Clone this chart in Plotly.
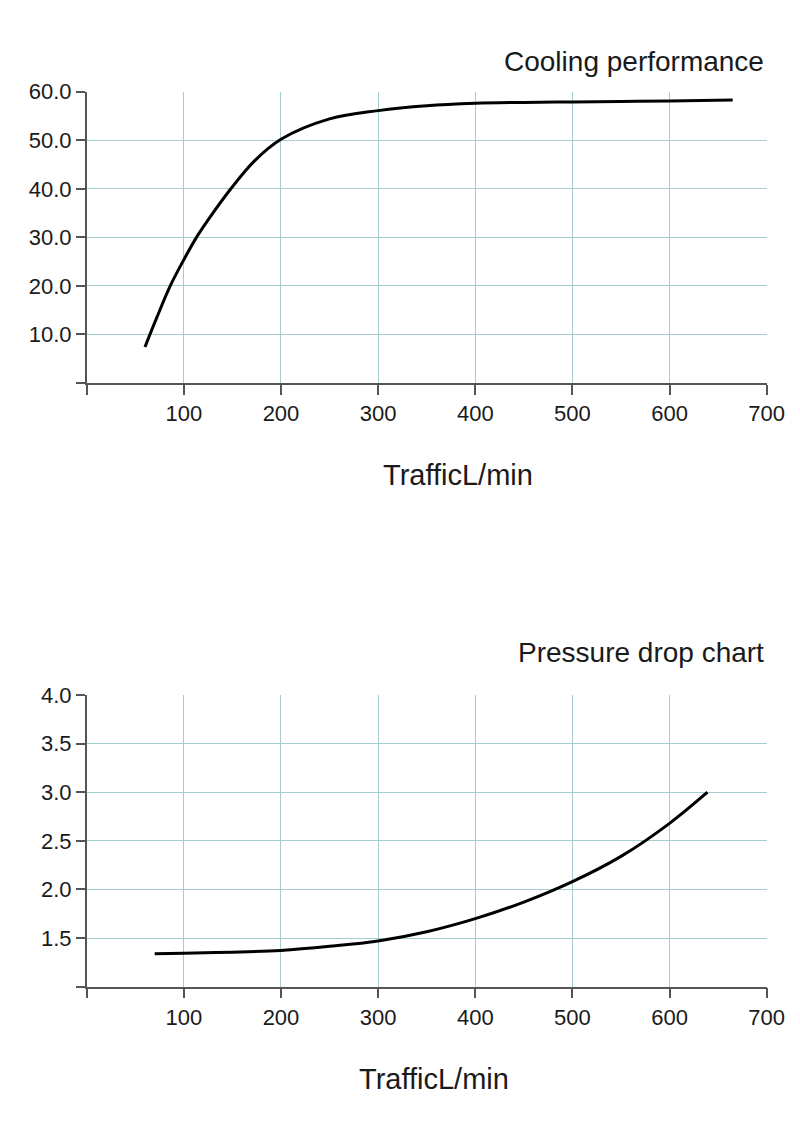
import plotly.graph_objects as go

# cooling performance curve
cool_flow = [60, 72, 86, 100, 113, 125, 148, 172, 200, 250, 300, 350, 400, 450, 500, 550, 600, 665]
cool_power = [7.4, 13.4, 20.0, 25.4, 30.0, 33.6, 39.9, 45.6, 50.2, 54.4, 56.1, 57.1, 57.6, 57.8, 57.9, 58.0, 58.1, 58.3]

# pressure drop curve
pressure_flow = [70, 100, 150, 200, 250, 300, 350, 400, 450, 500, 550, 600, 639]
pressure_drop = [1.34, 1.345, 1.355, 1.373, 1.415, 1.47, 1.565, 1.70, 1.87, 2.08, 2.34, 2.68, 3.0]

x_ticks = [0, 100, 200, 300, 400, 500, 600, 700]
x_labels = ["", "100", "200", "300", "400", "500", "600", "700"]
cool_ticks = [0, 10, 20, 30, 40, 50, 60]
cool_labels = ["", "10.0", "20.0", "30.0", "40.0", "50.0", "60.0"]
press_ticks = [1.0, 1.5, 2.0, 2.5, 3.0, 3.5, 4.0]
press_labels = ["", "1.5", "2.0", "2.5", "3.0", "3.5", "4.0"]

font_name = "Liberation Sans, Arial, sans-serif"
grid_col = "#a3cdcf"
axis_col = "#555555"
txt_col = "#1a1a1a"

# page has an 8px body margin, so the figure is a bit smaller than the window
W, H, OFF = 784, 1121, 8

def px(x):
    return (x - OFF) / W

def py(y):
    return 1 - (y - OFF) / H

fig = go.Figure()

fig.add_trace(go.Scatter(x=cool_flow, y=cool_power, mode="lines",
                         line=dict(color="black", width=3, shape="spline"),
                         xaxis="x", yaxis="y", showlegend=False))
fig.add_trace(go.Scatter(x=pressure_flow, y=pressure_drop, mode="lines",
                         line=dict(color="black", width=3, shape="spline"),
                         xaxis="x2", yaxis="y2", showlegend=False))

xdom = [px(86.7), px(766.7)]

def x_axis(anchor):
    return dict(domain=xdom, anchor=anchor, range=[0, 700], automargin=False,
                tickvals=x_ticks, ticktext=x_labels,
                showgrid=True, gridcolor=grid_col, gridwidth=1,
                zeroline=False, showline=True, linecolor=axis_col, linewidth=1.5,
                ticks="outside", ticklen=10, tickcolor=axis_col, tickwidth=1.5,
                tickfont=dict(family=font_name, size=22, color=txt_col))

def y_axis(anchor, dom, rng, vals, labels):
    return dict(domain=dom, anchor=anchor, range=rng, automargin=False,
                tickvals=vals, ticktext=labels,
                showgrid=True, gridcolor=grid_col, gridwidth=1,
                zeroline=False, showline=True, linecolor=axis_col, linewidth=1.5,
                ticks="outside", ticklen=9, tickcolor=axis_col, tickwidth=1.5,
                tickfont=dict(family=font_name, size=22, color=txt_col))

fig.update_layout(
    width=W, height=H,
    margin=dict(l=0, r=0, t=0, b=0),
    paper_bgcolor="white", plot_bgcolor="white",
    xaxis=x_axis("y"),
    yaxis=y_axis("x", [py(383), py(91.7)], [0, 60], cool_ticks, cool_labels),
    xaxis2=x_axis("y2"),
    yaxis2=y_axis("x2", [py(986.7), py(695)], [1, 4], press_ticks, press_labels),
    annotations=[
        dict(text="Cooling performance", xref="paper", yref="paper",
             x=px(766), y=py(61), xanchor="right", yanchor="middle",
             showarrow=False, font=dict(family=font_name, size=28, color=txt_col)),
        dict(text="TrafficL/min", xref="paper", yref="paper",
             x=px(458), y=py(475), xanchor="center", yanchor="middle",
             showarrow=False, font=dict(family=font_name, size=29, color=txt_col)),
        dict(text="Pressure drop chart", xref="paper", yref="paper",
             x=px(766), y=py(652), xanchor="right", yanchor="middle",
             showarrow=False, font=dict(family=font_name, size=28, color=txt_col)),
        dict(text="TrafficL/min", xref="paper", yref="paper",
             x=px(433.5), y=py(1079), xanchor="center", yanchor="middle",
             showarrow=False, font=dict(family=font_name, size=29, color=txt_col)),
    ],
)

fig.write_html("out.html")
